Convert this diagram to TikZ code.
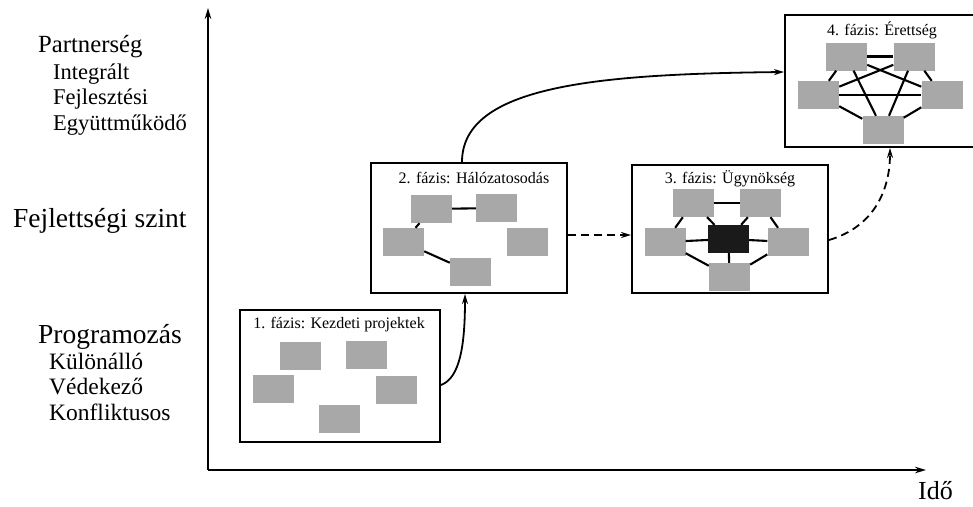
\documentclass[tikz,border=0pt]{standalone}
\usepackage{fontspec}
\setmainfont{Liberation Serif}
\usetikzlibrary{arrows.meta,calc}
\definecolor{boxgray}{RGB}{168,168,168}
\definecolor{boxblack}{RGB}{26,26,26}
\tikzset{
  phase/.style={draw=black, line width=2pt, fill=white, inner sep=0pt},
  proj/.style={fill=boxgray, inner sep=0pt, minimum width=41pt, minimum height=28pt},
  hub/.style={fill=boxblack, inner sep=0pt, minimum width=41pt, minimum height=28pt},
  link/.style={line width=2.1pt},
  thicklink/.style={line width=2.7pt},
  title/.style={font=\fontsize{16}{18}\selectfont, inner sep=0pt, anchor=base},
  biglabel/.style={font=\fontsize{27.5}{30}\selectfont, inner sep=0pt, anchor=base west},
  sublabel/.style={font=\fontsize{22.5}{26}\selectfont, inner sep=0pt, anchor=base west},
  axis/.style={line width=2.2pt, -{Stealth[length=11pt,width=6.5pt]}},
  flow/.style={line width=1.8pt, -{Stealth[length=10pt,width=6pt]}},
  dflow/.style={line width=1.8pt, dash pattern=on 8pt off 5pt, -{Stealth[length=10pt,width=6pt]}}
}
\begin{document}
\begin{tikzpicture}[x=1pt,y=-1pt]
\useasboundingbox (0,0) rectangle (973,506);

% axes
\coordinate (origin) at (208,470);
\coordinate (ytop) at (208,8);
\coordinate (xend) at (926,470);
\draw[axis] (origin) -- (ytop);
\draw[axis] (origin) -- (xend);

% left labels
\node[biglabel, font=\fontsize{24.7}{28}\selectfont] (partner) at (38,52) {Partnerség};
\node[sublabel] (integr) at (53,79) {Integrált};
\node[sublabel] (fejl) at (53,104.5) {Fejlesztési};
\node[sublabel] (egyutt) at (53,130) {Együttműködő};
\node[biglabel] (szint) at (13,227) {Fejlettségi szint};
\node[biglabel] (progr) at (38,343) {Programozás};
\node[sublabel, font=\fontsize{23.5}{27}\selectfont] (kulon) at (49,369) {Különálló};
\node[sublabel, font=\fontsize{23.5}{27}\selectfont] (vedek) at (49,394.5) {Védekező};
\node[sublabel, font=\fontsize{23.5}{27}\selectfont] (konfl) at (49,420) {Konfliktusos};
\node[biglabel, font=\fontsize{26}{30}\selectfont] (ido) at (918,499) {Idő};

% phase boxes
\node[phase, minimum width=200pt, minimum height=132pt] (b1) at (340,376) {};
\node[phase, minimum width=196pt, minimum height=130pt] (b2) at (469,228) {};
\node[phase, minimum width=196pt, minimum height=128pt] (b3) at (730,229) {};
\node[phase, minimum width=190pt, minimum height=132pt] (b4) at (880,81) {};

% titles
\node[title] (t1) at (339,328) {1. fázis: Kezdeti projektek};
\node[title] (t2) at (474,183) {2. fázis: Hálózatosodás};
\node[title] (t3) at (730,183) {3. fázis: Ügynökség};
\node[title] (t4) at (882,35) {4. fázis: Érettség};

% phase 1
\node[proj] (a1) at (300.5,356) {};
\node[proj] (a2) at (366,354.5) {};
\node[proj] (a3) at (273,388.5) {};
\node[proj] (a4) at (396.5,389.5) {};
\node[proj] (a5) at (339.5,419) {};

% phase 2
\node[proj] (c1) at (431.5,209) {};
\node[proj] (c2) at (496.5,208) {};
\node[proj] (c3) at (403.5,242) {};
\node[proj] (c4) at (527,242) {};
\node[proj] (c5) at (470.5,272) {};
\draw[link] (c1) -- (c2);
\draw[link] (c1) -- (c3);
\draw[link] (c3) -- (c5);

% phase 3
\node[proj] (d1) at (693,203) {};
\node[proj] (d2) at (760.5,203) {};
\node[proj] (d3) at (665,242) {};
\node[hub] (d4) at (728.5,239) {};
\node[proj] (d5) at (788,242) {};
\node[proj] (d6) at (729.5,277) {};
\draw[link] (d1) -- (d2);
\draw[link] (d1) -- (d3);
\draw[link] (d1) -- (d4);
\draw[link] (d2) -- (d4);
\draw[link] (d2) -- (d5);
\draw[link] (d3) -- (d4);
\draw[link] (d4) -- (d5);
\draw[link] (d4) -- (d6);
\draw[link] (d3) -- (d6);
\draw[link] (d5) -- (d6);

% phase 4
\node[proj] (e1) at (846.5,56.5) {};
\node[proj] (e2) at (914,56.5) {};
\node[proj] (e3) at (818.5,95) {};
\node[proj] (e4) at (942,95) {};
\node[proj] (e5) at (883,130) {};
\draw[thicklink] (e1) -- (e2);
\draw[thicklink] (e3) -- (e4);
\draw[link] (e1) -- (e3);
\draw[link] (e1) -- (e4);
\draw[link] (e1) -- (e5);
\draw[link] (e2) -- (e3);
\draw[link] (e2) -- (e4);
\draw[link] (e2) -- (e5);
\draw[link] (e3) -- (e5);
\draw[link] (e4) -- (e5);

% flows between phases
\draw[flow] ($(b1.east)+(0,9)$) .. controls (460,378) and (465,345) .. ($(b2.south)+(-4,0)$);
\draw[flow] ($(b2.north)+(-7,0)$) .. controls (462,85) and (600,74) .. ($(b4.west)+(0,-9)$);
\draw[dflow] ($(b2.east)+(0,7)$) -- ($(b3.west)+(0,6)$);
\draw[dflow] ($(b3.east)+(0,11)$) .. controls (870,228) and (890,195) .. ($(b4.south)+(10,0)$);
\end{tikzpicture}
\end{document}
